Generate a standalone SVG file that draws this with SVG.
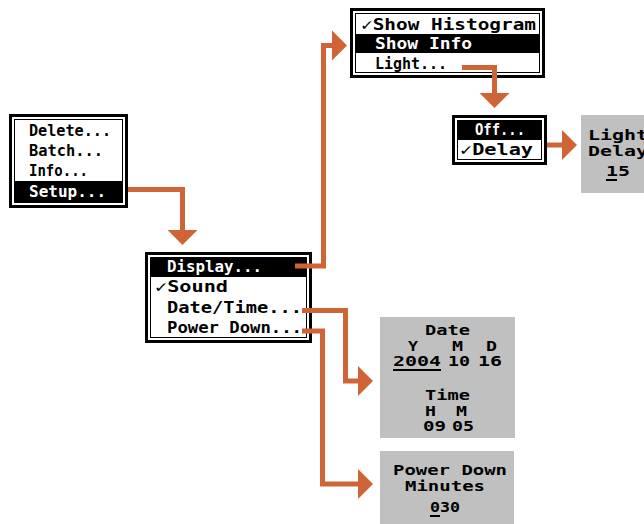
<svg xmlns="http://www.w3.org/2000/svg" width="644" height="524" viewBox="0 0 644 524">
<defs>
<style>
.t{font-family:"DejaVu Sans Mono","Liberation Mono",monospace;font-weight:bold;font-size:16px;fill:#000}
.s{font-size:14px}
.w{fill:#fff}
.g{fill:#c0c0c0}
.c{fill:none;stroke:#cf6536;stroke-width:5;stroke-linejoin:miter}
.u{stroke:#000;stroke-width:2}
</style>
<marker id="ah" markerUnits="userSpaceOnUse" markerWidth="16" markerHeight="31" refX="0" refY="15" orient="auto" viewBox="0 0 16 30">
<path d="M0,0 L15,15 L0,30 Z" fill="#cf6536"/>
</marker>
</defs>
<rect width="644" height="524" fill="#fff"/>

<g id="main-menu">
<rect x="9" y="114" width="119" height="94" fill="#000"/>
<rect x="12" y="117" width="113" height="88" fill="#fff"/>
<rect x="14.5" y="119.5" width="108" height="83" fill="#fff" stroke="#000"/>
<rect x="15" y="181" width="107" height="21" fill="#000"/>
<text class="t" x="29" y="136" textLength="82" lengthAdjust="spacingAndGlyphs">Delete...</text>
<text class="t" x="29" y="156" textLength="74" lengthAdjust="spacingAndGlyphs">Batch...</text>
<text class="t" x="29" y="176" textLength="59" lengthAdjust="spacingAndGlyphs">Info...</text>
<text class="t w" x="29" y="197" textLength="77" lengthAdjust="spacingAndGlyphs">Setup...</text>
</g>

<g id="setup-menu">
<rect x="145" y="252" width="167" height="91" fill="#000"/>
<rect x="148" y="255" width="161" height="85" fill="#fff"/>
<rect x="150.5" y="257.5" width="156" height="80" fill="#fff" stroke="#000"/>
<rect x="151" y="258" width="155" height="19" fill="#000"/>
<text class="t w" x="167" y="272" textLength="95" lengthAdjust="spacingAndGlyphs">Display...</text>
<text class="t" x="155" y="292" textLength="73" lengthAdjust="spacingAndGlyphs">✓Sound</text>
<text class="t" x="167" y="313" textLength="135" lengthAdjust="spacingAndGlyphs">Date/Time...</text>
<text class="t" x="167" y="333" textLength="135" lengthAdjust="spacingAndGlyphs">Power Down...</text>
</g>

<g id="display-menu">
<rect x="350" y="8" width="195" height="70" fill="#000"/>
<rect x="353" y="11" width="189" height="64" fill="#fff"/>
<rect x="355.5" y="13.5" width="184" height="59" fill="#fff" stroke="#000"/>
<rect x="356" y="34" width="183" height="19" fill="#000"/>
<text class="t" x="361" y="30" textLength="175" lengthAdjust="spacingAndGlyphs">✓Show Histogram</text>
<text class="t w" x="375" y="49" textLength="97" lengthAdjust="spacingAndGlyphs">Show Info</text>
<text class="t" x="375" y="69" textLength="72" lengthAdjust="spacingAndGlyphs">Light...</text>
</g>

<g id="light-menu">
<rect x="452" y="115" width="95" height="50" fill="#000"/>
<rect x="455" y="118" width="89" height="44" fill="#fff"/>
<rect x="457.5" y="120.5" width="84" height="39" fill="#fff" stroke="#000"/>
<rect x="458" y="121" width="83" height="19" fill="#000"/>
<text class="t w" x="475" y="135" textLength="50" lengthAdjust="spacingAndGlyphs">Off...</text>
<text class="t" x="460" y="155" textLength="73" lengthAdjust="spacingAndGlyphs">✓Delay</text>
</g>

<g id="light-delay">
<rect class="g" x="581" y="115" width="70" height="78"/>
<text class="t s" x="588" y="140" textLength="60" lengthAdjust="spacingAndGlyphs">Light</text>
<text class="t s" x="588" y="156" textLength="60" lengthAdjust="spacingAndGlyphs">Delay</text>
<text class="t s" x="606" y="176" textLength="24" lengthAdjust="spacingAndGlyphs">15</text>
<line class="u" x1="606" y1="180" x2="617" y2="180"/>
</g>

<g id="date-time">
<rect class="g" x="380" y="317" width="135" height="121"/>
<text class="t s" x="425" y="335" textLength="45" lengthAdjust="spacingAndGlyphs">Date</text>
<text class="t s" x="408" y="351" textLength="10" lengthAdjust="spacingAndGlyphs">Y</text>
<text class="t s" x="452" y="351" textLength="11" lengthAdjust="spacingAndGlyphs">M</text>
<text class="t s" x="486" y="351" textLength="11" lengthAdjust="spacingAndGlyphs">D</text>
<text class="t s" x="393" y="366" textLength="48" lengthAdjust="spacingAndGlyphs">2004</text>
<line class="u" x1="393" y1="370" x2="441" y2="370"/>
<text class="t s" x="448" y="366" textLength="22" lengthAdjust="spacingAndGlyphs">10</text>
<text class="t s" x="478" y="366" textLength="24" lengthAdjust="spacingAndGlyphs">16</text>
<text class="t s" x="425" y="400" textLength="45" lengthAdjust="spacingAndGlyphs">Time</text>
<text class="t s" x="425" y="416" textLength="11" lengthAdjust="spacingAndGlyphs">H</text>
<text class="t s" x="456" y="416" textLength="11" lengthAdjust="spacingAndGlyphs">M</text>
<text class="t s" x="423" y="431" textLength="23" lengthAdjust="spacingAndGlyphs">09</text>
<text class="t s" x="452" y="431" textLength="22" lengthAdjust="spacingAndGlyphs">05</text>
</g>

<g id="power-down">
<rect class="g" x="380" y="451" width="134" height="73"/>
<text class="t s" x="393" y="475" textLength="114" lengthAdjust="spacingAndGlyphs">Power Down</text>
<text class="t s" x="405" y="491" textLength="80" lengthAdjust="spacingAndGlyphs">Minutes</text>
<text class="t s" x="430" y="512" textLength="30" lengthAdjust="spacingAndGlyphs">030</text>
<line class="u" x1="430" y1="516" x2="440" y2="516"/>
</g>

<g id="connectors">
<path class="c" d="M128,189.5 H182.5 V230" marker-end="url(#ah)"/>
<path class="c" d="M295,266 H323.5 V45.5 H332" marker-end="url(#ah)"/>
<path class="c" d="M302,310.5 H345.5 V381 H358" marker-end="url(#ah)"/>
<path class="c" d="M302,331 H322.5 V484 H358" marker-end="url(#ah)"/>
<path class="c" d="M462,67.5 H494.5 V93" marker-end="url(#ah)"/>
<path class="c" d="M547,145 H562" marker-end="url(#ah)"/>
</g>
</svg>
